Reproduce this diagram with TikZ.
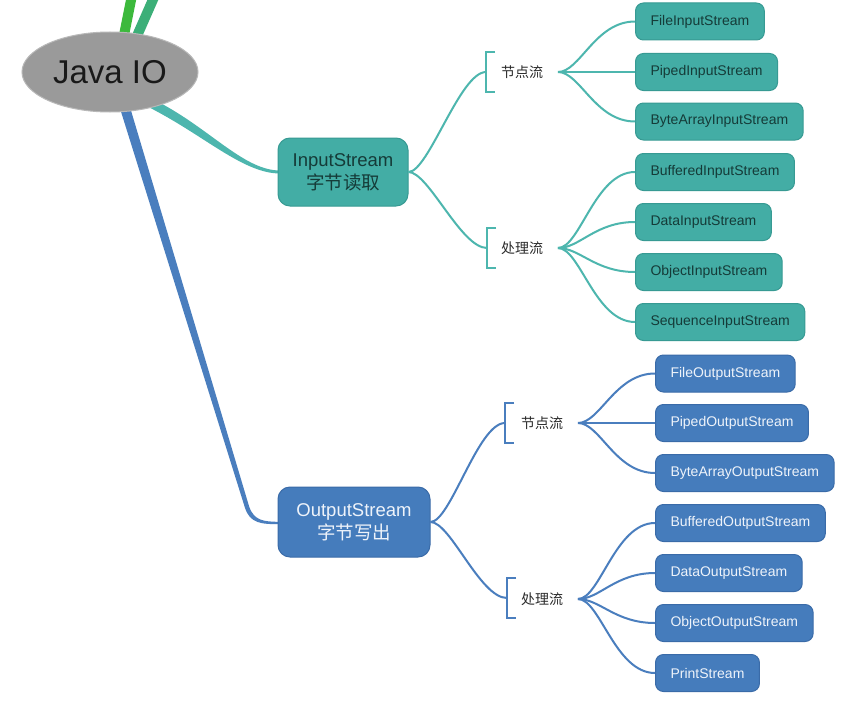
\documentclass[tikz,border=0pt]{standalone}
\usepackage{fontspec}
\setmainfont{Liberation Sans}
\newfontfamily\cjk{Noto Sans CJK SC}
\usetikzlibrary{shapes.geometric,calc}
\definecolor{tealline}{HTML}{4DB6AE}
\definecolor{tealfill}{HTML}{43ADA5}
\definecolor{tealdraw}{HTML}{379A93}
\definecolor{tealtext}{HTML}{153B38}
\definecolor{blueline}{HTML}{4A7EBE}
\definecolor{bluefill}{HTML}{457CBC}
\definecolor{bluedraw}{HTML}{3A6BA8}
\definecolor{bluetext}{HTML}{EEF3FA}
\definecolor{greenA}{HTML}{3CB93C}
\definecolor{greenB}{HTML}{3CAF78}
\definecolor{rootfill}{HTML}{9A9A9A}
\definecolor{rootdraw}{HTML}{B8B8B8}
\definecolor{labtext}{HTML}{2A2A2A}
\tikzset{
  leafbase/.style={rounded corners=8pt, line width=1pt, minimum height=37pt,
    inner xsep=15pt, anchor=west, font=\fontsize{14}{16}\selectfont},
  leafin/.style={leafbase, draw=tealdraw, fill=tealfill, text=tealtext},
  leafout/.style={leafbase, draw=bluedraw, fill=bluefill, text=bluetext},
  mainbox/.style={rounded corners=12pt, line width=1pt, align=center,
    font=\fontsize{18.5}{23}\selectfont},
  lab/.style={font=\cjk\fontsize{14}{16}\selectfont, text=labtext, inner sep=0pt},
  tline/.style={draw=tealline, line width=2pt},
  bline/.style={draw=blueline, line width=2pt},
}
\begin{document}
\begin{tikzpicture}[x=1pt,y=-1pt]
\useasboundingbox (0,0) rectangle (854,709);
\clip (0,0) rectangle (854,709);
\fill[white] (0,0) rectangle (854,709);

% green branches going off the top
\draw[greenA, line width=10pt] (122,45) -- (132,-5);
\draw[greenB, line width=10pt] (133,45) -- (155,-5);

% teal thick branch (tapered)
\fill[tealline] (146.3,95.5) -- (162.1,104) .. controls (212,131) and (245,170.5) .. (280,170.5)
  -- (280,173.5) .. controls (245,173.5) and (208,139) .. (157.9,112) -- (142.1,103.5) -- cycle;
% blue thick branch (tapered)
\fill[blueline] (126.8,96.5) -- (249.1,506.4) .. controls (254,520.5) and (263,521.8) .. (280,521.8)
  -- (280,524.2) .. controls (261,524.2) and (250,523.5) .. (244.9,507.6) -- (117.2,99.5) -- cycle;

% root
\node[ellipse, draw=rootdraw, fill=rootfill, line width=1pt, minimum width=176pt,
  minimum height=80pt, inner sep=0pt, text=black!90,
  font=\fontsize{33}{36}\selectfont] (root) at (110,72) {Java IO};

% main boxes
\node[mainbox, draw=tealdraw, fill=tealfill, text=tealtext, minimum width=130pt,
  minimum height=68pt] (in) at (343,172) {InputStream\\{\cjk 字节读取}};
\node[mainbox, draw=bluedraw, fill=bluefill, text=bluetext, minimum width=152pt,
  minimum height=70pt] (out) at (354,522) {OutputStream\\{\cjk 字节写出}};

% bracket labels
\node[lab] (in1) at (522,72) {节点流};
\node[lab] (in2) at (522,248) {处理流};
\node[lab] (out1) at (542,423) {节点流};
\node[lab] (out2) at (542,599) {处理流};

% brackets
\coordinate (bi1) at (486,72);
\coordinate (bi2) at (487,248);
\coordinate (bo1) at (505,423);
\coordinate (bo2) at (507,598);
\draw[tealline, line width=2pt] ($(bi1)+(9,-20)$) -- ($(bi1)+(0,-20)$) -- ($(bi1)+(0,20)$) -- ($(bi1)+(9,20)$);
\draw[tealline, line width=2pt] ($(bi2)+(9,-20)$) -- ($(bi2)+(0,-20)$) -- ($(bi2)+(0,20)$) -- ($(bi2)+(9,20)$);
\draw[blueline, line width=2pt] ($(bo1)+(9,-20)$) -- ($(bo1)+(0,-20)$) -- ($(bo1)+(0,20)$) -- ($(bo1)+(9,20)$);
\draw[blueline, line width=2pt] ($(bo2)+(9,-20)$) -- ($(bo2)+(0,-20)$) -- ($(bo2)+(0,20)$) -- ($(bo2)+(9,20)$);

% main box to brackets
\draw[tline] (in.east) .. controls +(20,0) and +(-26,0) .. (bi1);
\draw[tline] (in.east) .. controls +(20,0) and +(-26,0) .. (bi2);
\draw[bline] (out.east) .. controls +(20,0) and +(-27,0) .. (bo1);
\draw[bline] (out.east) .. controls +(20,0) and +(-27,0) .. (bo2);

% fan apexes
\coordinate (fi1) at (558,72);
\coordinate (fi2) at (558,248);
\coordinate (fo1) at (578,423);
\coordinate (fo2) at (578,599);

% input leaves
\node[leafin] (l1) at (635,21.5) {FileInputStream};
\node[leafin] (l2) at (635,72) {PipedInputStream};
\node[leafin] (l3) at (635,121.5) {ByteArrayInputStream};
\node[leafin] (l4) at (635,172) {BufferedInputStream};
\node[leafin] (l5) at (635,222) {DataInputStream};
\node[leafin] (l6) at (635,272) {ObjectInputStream};
\node[leafin] (l7) at (635,322) {SequenceInputStream};
% output leaves
\node[leafout] (o1) at (655,373.5) {FileOutputStream};
\node[leafout] (o2) at (655,423) {PipedOutputStream};
\node[leafout] (o3) at (655,473) {ByteArrayOutputStream};
\node[leafout] (o4) at (655,523) {BufferedOutputStream};
\node[leafout] (o5) at (655,573) {DataOutputStream};
\node[leafout] (o6) at (655,623) {ObjectOutputStream};
\node[leafout] (o7) at (655,673) {PrintStream};

% fans
\foreach \l in {l1,l2,l3}
  \draw[tline] (fi1) .. controls +(22,0) and +(-40,0) .. (\l.west);
\foreach \l in {l4,l5,l6,l7}
  \draw[tline] (fi2) .. controls +(22,0) and +(-40,0) .. (\l.west);
\foreach \l in {o1,o2,o3}
  \draw[bline] (fo1) .. controls +(22,0) and +(-40,0) .. (\l.west);
\foreach \l in {o4,o5,o6,o7}
  \draw[bline] (fo2) .. controls +(22,0) and +(-40,0) .. (\l.west);
\end{tikzpicture}
\end{document}
